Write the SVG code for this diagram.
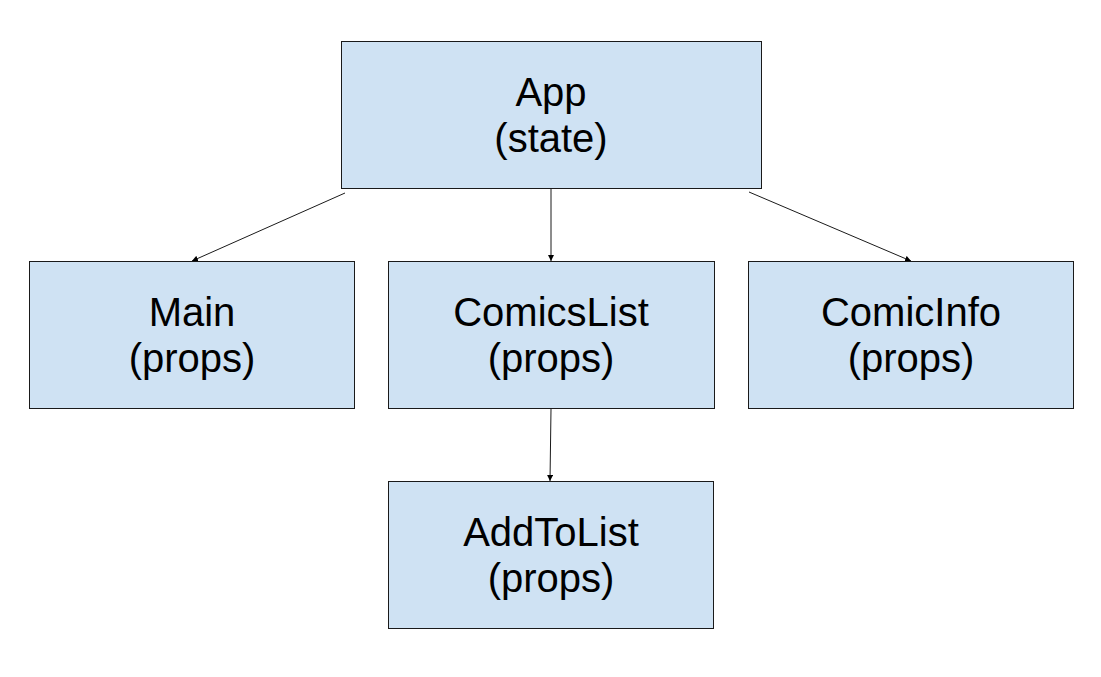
<svg xmlns="http://www.w3.org/2000/svg" width="1101" height="677" viewBox="0 0 1101 677">
<style>
.box{fill:#cfe2f3;stroke:#1a1a1a;stroke-width:1}
.lbl{font-family:"Liberation Sans",Arial,sans-serif;font-size:40px;fill:#000;text-anchor:middle}
.edge{stroke:#1a1a1a;stroke-width:1;fill:none;marker-end:url(#ah)}
</style>
<defs>
<marker id="ah" viewBox="0 0 10 10" refX="10" refY="5" markerWidth="6" markerHeight="6" markerUnits="userSpaceOnUse" orient="auto">
<path d="M0,0 L10,5 L0,10 z" fill="#000"/>
</marker>
</defs>
<rect width="1101" height="677" fill="#fff"/>
<g id="connectors">
<line class="edge" x1="345" y1="193" x2="192" y2="261"/>
<line class="edge" x1="551" y1="189" x2="551" y2="261"/>
<line class="edge" x1="749" y1="192" x2="911" y2="261"/>
<line class="edge" x1="551" y1="409" x2="550" y2="481"/>
</g>
<g id="app">
<rect class="box" x="341.5" y="41.5" width="420" height="147"/>
<text class="lbl" x="551" y="106">App</text>
<text class="lbl" x="551" y="152">(state)</text>
</g>
<g id="main">
<rect class="box" x="29.5" y="261.5" width="325" height="147"/>
<text class="lbl" x="192" y="326">Main</text>
<text class="lbl" x="192" y="372">(props)</text>
</g>
<g id="comicslist">
<rect class="box" x="388.5" y="261.5" width="326" height="147"/>
<text class="lbl" x="551" y="326">ComicsList</text>
<text class="lbl" x="551" y="372">(props)</text>
</g>
<g id="comicinfo">
<rect class="box" x="748.5" y="261.5" width="325" height="147"/>
<text class="lbl" x="911" y="326">ComicInfo</text>
<text class="lbl" x="911" y="372">(props)</text>
</g>
<g id="addtolist">
<rect class="box" x="388.5" y="481.5" width="325" height="147"/>
<text class="lbl" x="551" y="546">AddToList</text>
<text class="lbl" x="551" y="592">(props)</text>
</g>
</svg>
